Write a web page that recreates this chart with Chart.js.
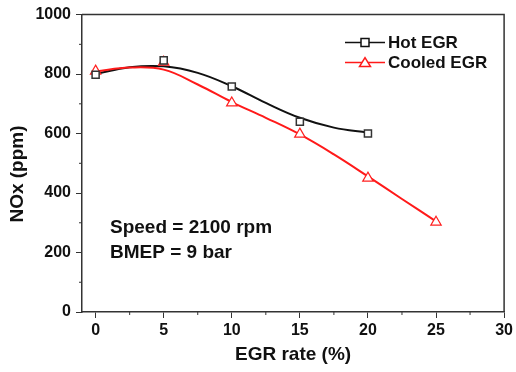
<!DOCTYPE html>
<html>
<head>
<meta charset="utf-8">
<script src="https://cdn.jsdelivr.net/npm/chart.js@4.4.0/dist/chart.umd.min.js"></script>
<style>
html, body { margin: 0; padding: 0; background: #fff; }
#wrap { width: 516px; height: 372px; }
</style>
</head>
<body>
<div id="wrap"><canvas id="noxChart"></canvas></div>
<script>
var egrRate = [0, 5, 10, 15, 20, 25];
var hotEGR = [798, 846, 758, 640, 600];
var cooledEGR = [810, 840, 703, 598, 450, 302];
// smoothed curves as drawn in the picture, read every 2.5 %
var curveRate = [0, 2.5, 5, 7.5, 10, 12.5, 15, 17.5, 20, 22.5, 25];
var hotCurve = [800, 823, 826, 804, 759, 703, 653, 620, 603];
var cooledCurve = [809, 822, 815, 765, 706, 653, 597, 530, 456, 380, 305];
var xTicks = [0, 5, 10, 15, 20, 25, 30];
var yTicks = [0, 200, 400, 600, 800, 1000];
var yTitle = "NOx (ppm)";
var notes = ["Speed = 2100 rpm", "BMEP = 9 bar"];

var FONT = "'Liberation Sans', Arial, sans-serif";
var AXIS = "#333";

function toPoints(xs, ys) {
	return ys.map(function (v, i) { return { x: xs[i], y: v }; });
}

function withMinor(major) {
	var out = [];
	for (var i = 0; i < major.length; i++) {
		out.push({ value: major[i] });
		if (i < major.length - 1) out.push({ value: (major[i] + major[i + 1]) / 2 });
	}
	return out;
}

var extras = {
	id: "extras",
	afterDraw: function (chart) {
		var c = chart.ctx, a = chart.chartArea;
		var xs = chart.scales.x, ys = chart.scales.y;
		c.save();
		// frame on top and right
		c.strokeStyle = AXIS;
		c.lineWidth = 1.5;
		c.beginPath();
		c.moveTo(a.left, a.top);
		c.lineTo(a.right, a.top);
		c.lineTo(a.right, a.bottom);
		c.stroke();
		// minor ticks
		c.lineWidth = 1;
		c.beginPath();
		xs.ticks.forEach(function (t) {
			if (xTicks.indexOf(t.value) < 0) {
				var px = xs.getPixelForValue(t.value);
				c.moveTo(px, a.bottom);
				c.lineTo(px, a.bottom + 3);
			}
		});
		ys.ticks.forEach(function (t) {
			if (yTicks.indexOf(t.value) < 0) {
				var py = ys.getPixelForValue(t.value);
				c.moveTo(a.left, py);
				c.lineTo(a.left - 3, py);
			}
		});
		c.stroke();

		// y title, sits a little below the axis middle
		c.save();
		c.translate(18, 174);
		c.rotate(-Math.PI / 2);
		c.fillStyle = "#111";
		c.font = "bold 19px " + FONT;
		c.textAlign = "center";
		c.textBaseline = "middle";
		c.fillText(yTitle, 0, 0);
		c.restore();

		// legend
		var rows = [
			{ ds: chart.data.datasets[0], y: a.top + 28 },
			{ ds: chart.data.datasets[1], y: a.top + 48 }
		];
		rows.forEach(function (r) {
			var x0 = a.left + 263, x1 = a.left + 303, mx = (x0 + x1) / 2;
			c.strokeStyle = r.ds.borderColor;
			c.lineWidth = 1.5;
			c.beginPath();
			c.moveTo(x0, r.y);
			c.lineTo(x1, r.y);
			c.stroke();
			c.fillStyle = "#fff";
			c.beginPath();
			if (r.ds.pointStyle === "rect") {
				c.rect(mx - 4, r.y - 4, 8, 8);
			} else {
				c.moveTo(mx, r.y - 5);
				c.lineTo(mx + 5.5, r.y + 4);
				c.lineTo(mx - 5.5, r.y + 4);
				c.closePath();
			}
			c.fill();
			c.stroke();
			c.fillStyle = "#111";
			c.font = "bold 17px " + FONT;
			c.textBaseline = "middle";
			c.fillText(r.ds.label, x1 + 3, r.y + 0.5);
		});

		// operating point note
		c.fillStyle = "#111";
		c.font = "bold 19px " + FONT;
		c.textBaseline = "alphabetic";
		c.fillText(notes[0], a.left + 28, 233);
		c.fillText(notes[1], a.left + 28, 258);
		c.restore();
	}
};

var ctx = document.getElementById("noxChart");
new Chart(ctx, {
	type: "scatter",
	data: {
		datasets: [
			{
				label: "Hot EGR",
				data: toPoints(egrRate, hotEGR),
				showLine: false,
				pointStyle: "rect",
				pointRadius: 5,
				pointBorderWidth: 1.5,
				pointBackgroundColor: "#fff",
				pointBorderColor: "#333",
				borderColor: "#111",
				order: 0
			},
			{
				label: "Cooled EGR",
				data: toPoints(egrRate, cooledEGR),
				showLine: false,
				pointStyle: "triangle",
				pointRadius: 6,
				pointBorderWidth: 1.2,
				pointBackgroundColor: "#fff",
				pointBorderColor: "#ff2020",
				borderColor: "#ff1a1a",
				order: 0
			},
			{
				label: "Cooled EGR curve",
				data: toPoints(curveRate, cooledCurve),
				showLine: true,
				tension: 0.4,
				pointRadius: 0,
				borderColor: "#ff1a1a",
				borderWidth: 2,
				order: 1
			},
			{
				label: "Hot EGR curve",
				data: toPoints(curveRate, hotCurve),
				showLine: true,
				tension: 0.4,
				pointRadius: 0,
				borderColor: "#111",
				borderWidth: 2,
				order: 2
			}
		]
	},
	options: {
		responsive: true,
		maintainAspectRatio: false,
		animation: false,
		events: [],
		layout: { padding: { left: 0, top: 13, right: 8, bottom: 0 } },
		plugins: {
			legend: { display: false },
			tooltip: { enabled: false }
		},
		scales: {
			x: {
				type: "linear",
				min: -1,
				max: 30,
				afterBuildTicks: function (s) { s.ticks = withMinor(xTicks); },
				afterFit: function (s) { s.height = 60; },
				grid: {
					drawOnChartArea: false,
					tickLength: 6,
					tickWidth: 1,
					tickColor: function (c) { return xTicks.indexOf(c.tick.value) >= 0 ? AXIS : "rgba(0,0,0,0)"; }
				},
				border: { color: AXIS, width: 1.5 },
				ticks: {
					padding: 3,
					color: "#111",
					font: { family: FONT, size: 16, weight: "bold" },
					callback: function (v) { return xTicks.indexOf(v) >= 0 ? v : ""; }
				},
				title: {
					display: true,
					text: "EGR rate (%)",
					color: "#111",
					font: { family: FONT, size: 19, weight: "bold" },
					padding: { top: 0, bottom: 6 }
				}
			},
			y: {
				min: 0,
				max: 1000,
				afterBuildTicks: function (s) { s.ticks = withMinor(yTicks); },
				afterFit: function (s) { s.width = 82; },
				grid: {
					drawOnChartArea: false,
					tickLength: 6,
					tickWidth: 1,
					tickColor: function (c) { return yTicks.indexOf(c.tick.value) >= 0 ? AXIS : "rgba(0,0,0,0)"; }
				},
				border: { color: AXIS, width: 1.5 },
				ticks: {
					padding: 5,
					color: "#111",
					font: { family: FONT, size: 16, weight: "bold" },
					callback: function (v) { return yTicks.indexOf(v) >= 0 ? v : ""; }
				},
				title: { display: false }
			}
		}
	},
	plugins: [extras]
});
</script>
</body>
</html>
